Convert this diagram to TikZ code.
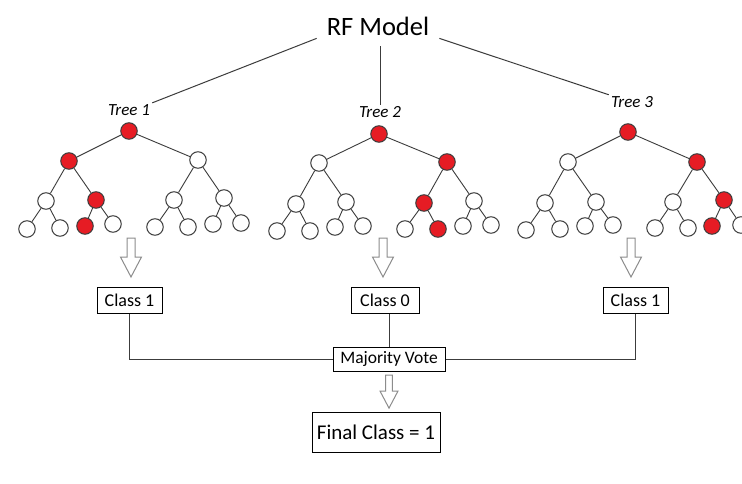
\documentclass[tikz,border=0pt]{standalone}
\usepackage{fontspec}
\setmainfont{Carlito}
\usetikzlibrary{positioning}
\definecolor{nodered}{RGB}{230,28,36}
\definecolor{linegray}{RGB}{60,60,60}
\definecolor{arrgray}{RGB}{140,140,140}
\tikzset{
    leaf/.style={circle, draw=linegray, fill=white, minimum size=16.5pt, inner sep=0pt, line width=1pt},
    hit/.style={leaf, fill=nodered},
    edge/.style={draw=linegray, line width=0.9pt},
    link/.style={draw=linegray, line width=1pt},
    treelbl/.style={font=\fontsize{17}{20}\selectfont\itshape, inner sep=2pt, anchor=base},
    classbox/.style={rectangle, draw=black, line width=1pt, minimum width=65pt, minimum height=26pt, inner sep=0pt, font=\fontsize{18}{21}\selectfont},
    hollowarr/.pic={\draw[draw=arrgray, line width=1pt, line join=miter] (-4,0) -- (4,0) -- (4,19) -- (10.5,19) -- (0,39) -- (-10.5,19) -- (-4,19) -- cycle;}
}
\begin{document}
\begin{tikzpicture}[x=1pt, y=-1pt]
    \fill[white] (0,0) rectangle (742,484);
    \useasboundingbox (0,0) rectangle (742,484);
    % model and tree labels
    \node[font=\fontsize{26.5}{30}\selectfont, anchor=base, inner xsep=10pt, inner ysep=2pt] (rf) at (378,36) {RF Model};
    \node[treelbl] (t1) at (129,116) {Tree 1};
    \node[treelbl] (t2) at (380,118) {Tree 2};
    \node[treelbl] (t3) at (632,108) {Tree 3};
    \draw[link] (rf.south west) -- (t1.north east);
    \draw[link, shorten <=8pt] (t2.north |- rf.south) -- (t2.north);
    \draw[link] (rf.south east) -- (t3.north west);
    % Tree 1
    \node[hit] (a1) at (129,131) {};
    \node[hit] (a2) at (69,161) {};
    \node[leaf] (a3) at (198,160) {};
    \node[leaf] (a4) at (46,201) {};
    \node[hit] (a5) at (96,200) {};
    \node[leaf] (a6) at (174,200) {};
    \node[leaf] (a7) at (224,198) {};
    \node[leaf] (a8) at (27,229) {};
    \node[leaf] (a9) at (60,228) {};
    \node[hit] (a10) at (85,226) {};
    \node[leaf] (a11) at (113,224) {};
    \node[leaf] (a12) at (155,227) {};
    \node[leaf] (a13) at (188,227) {};
    \node[leaf] (a14) at (213,224) {};
    \node[leaf] (a15) at (241,223) {};
    \draw[edge] (a1) -- (a2) (a1) -- (a3) (a2) -- (a4) (a2) -- (a5) (a3) -- (a6) (a3) -- (a7)
        (a4) -- (a8) (a4) -- (a9) (a5) -- (a10) (a5) -- (a11) (a6) -- (a12) (a6) -- (a13) (a7) -- (a14) (a7) -- (a15);
    % Tree 2
    \node[hit] (b1) at (379,134) {};
    \node[leaf] (b2) at (319,163) {};
    \node[hit] (b3) at (447,162) {};
    \node[leaf] (b4) at (296,204) {};
    \node[leaf] (b5) at (346,202) {};
    \node[hit] (b6) at (424,203) {};
    \node[leaf] (b7) at (474,201) {};
    \node[leaf] (b8) at (277,231) {};
    \node[leaf] (b9) at (310,231) {};
    \node[leaf] (b10) at (335,227) {};
    \node[leaf] (b11) at (363,226) {};
    \node[leaf] (b12) at (405,229) {};
    \node[hit] (b13) at (438,229) {};
    \node[leaf] (b14) at (463,226) {};
    \node[leaf] (b15) at (491,225) {};
    \draw[edge] (b1) -- (b2) (b1) -- (b3) (b2) -- (b4) (b2) -- (b5) (b3) -- (b6) (b3) -- (b7)
        (b4) -- (b8) (b4) -- (b9) (b5) -- (b10) (b5) -- (b11) (b6) -- (b12) (b6) -- (b13) (b7) -- (b14) (b7) -- (b15);
    % Tree 3
    \node[hit] (c1) at (628,132) {};
    \node[leaf] (c2) at (568,162) {};
    \node[hit] (c3) at (697,162) {};
    \node[leaf] (c4) at (545,203) {};
    \node[leaf] (c5) at (596,202) {};
    \node[leaf] (c6) at (673,202) {};
    \node[hit] (c7) at (724,200) {};
    \node[leaf] (c8) at (526,230) {};
    \node[leaf] (c9) at (560,229) {};
    \node[leaf] (c10) at (585,226) {};
    \node[leaf] (c11) at (613,225) {};
    \node[leaf] (c12) at (655,228) {};
    \node[leaf] (c13) at (688,228) {};
    \node[hit] (c14) at (712,226) {};
    \node[leaf] (c15) at (741,225) {};
    \draw[edge] (c1) -- (c2) (c1) -- (c3) (c2) -- (c4) (c2) -- (c5) (c3) -- (c6) (c3) -- (c7)
        (c4) -- (c8) (c4) -- (c9) (c5) -- (c10) (c5) -- (c11) (c6) -- (c12) (c6) -- (c13) (c7) -- (c14) (c7) -- (c15);
    % outputs
    \pic at (131,238) {hollowarr};
    \pic at (383,238) {hollowarr};
    \pic at (631,238) {hollowarr};
    \node[classbox] (cl1) at (129.5,300) {Class 1};
    \node[classbox, minimum width=68pt] (cl2) at (385,300) {Class 0};
    \node[classbox] (cl3) at (635.5,300) {Class 1};
    \node[classbox, minimum width=112pt, minimum height=24pt, font=\fontsize{17.5}{20}\selectfont] (mv) at (389,359) {Majority Vote};
    \draw[link] (cl1.south) |- (mv.west);
    \draw[link] (cl3.south) |- (mv.east);
    \draw[link] (mv.north |- cl2.south) -- (mv.north);
    \pic[scale=0.85] at (389,375) {hollowarr};
    \node[classbox, minimum width=128pt, minimum height=40pt, font=\fontsize{21}{25}\selectfont] (fc) at (376,432) {Final Class = 1};
\end{tikzpicture}
\end{document}
